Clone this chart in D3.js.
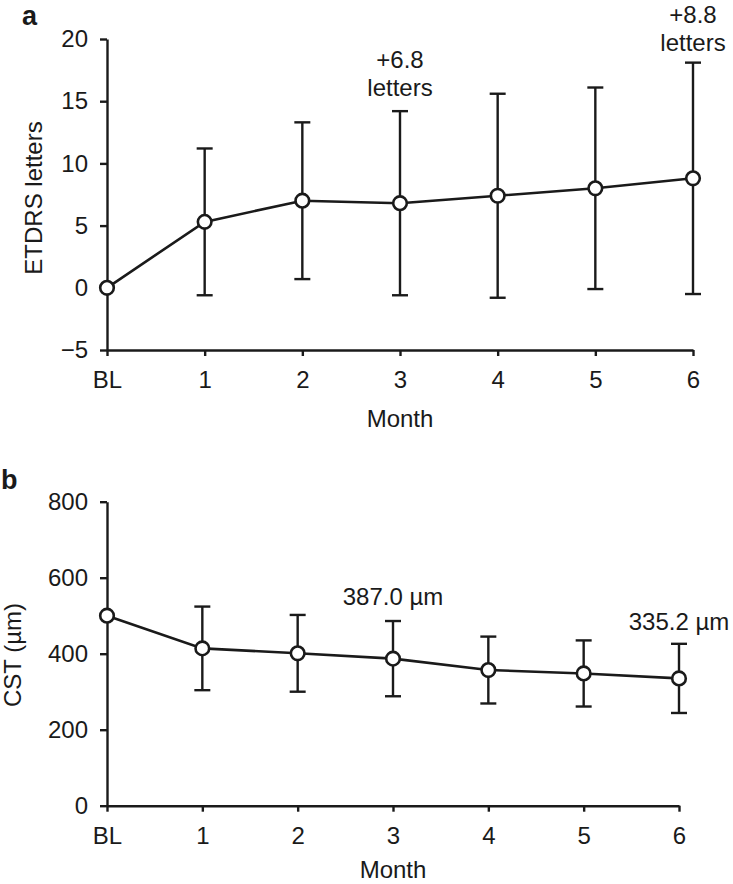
<!DOCTYPE html>
<html><head><meta charset="utf-8">
<script src="https://cdn.jsdelivr.net/npm/d3@7"></script>
<style>body{margin:0;background:#fff}svg{display:block}text{font-family:"Liberation Sans",Arial,sans-serif;fill:#1a1a1a}</style>
</head><body><svg id="c" width="733" height="884"></svg>
<script>
const months = ["BL","1","2","3","4","5","6"];
const etdrsMean = [0,5.3,7.0,6.8,7.4,8.0,8.8];
const etdrsSD   = [0,5.9,6.3,7.4,8.2,8.1,9.3];
const etdrsTicks = [-5,0,5,10,15,20];
const cstMean = [500,414,401,387,357,348,335];
const cstSD   = [0,110,101,99,88,87,91];
const cstTicks = [0,200,400,600,800];

const svg = d3.select("#c");
const FS = 24;
const ink = "#1a1a1a";

function panel(o){
  const g = svg.append("g");
  const x = d3.scalePoint().domain(months).range([o.x0,o.x1]);
  const y = d3.scaleLinear().domain(o.domain).range([o.yb,o.yt]);
  const xa = g.append("g").attr("transform",`translate(0,${o.yb})`)
    .call(d3.axisBottom(x).tickSize(6).tickPadding(15).tickSizeOuter(0));
  const ya = g.append("g").attr("transform",`translate(${o.x0},0)`)
    .call(d3.axisLeft(y).tickValues(o.ticks).tickSize(7).tickPadding(12).tickSizeOuter(0)
      .tickFormat(d=> d<0 ? "\u2212"+Math.abs(d) : d));
  [xa,ya].forEach(a=>{
    a.select(".domain").attr("stroke",ink).attr("stroke-width",2.4);
    a.selectAll(".tick line").attr("stroke",ink).attr("stroke-width",2.4);
    a.selectAll(".tick text").attr("font-size",FS).attr("fill",ink).style("font-family",'"Liberation Sans",Arial,sans-serif');
  });
  const data = months.map((m,i)=>({m,v:o.mean[i],s:o.sd[i]}));
  const eb = g.append("g").attr("stroke",ink).attr("stroke-width",2.4);
  data.filter(d=>d.s>0).forEach(d=>{
    const cx = x(d.m);
    eb.append("line").attr("x1",cx).attr("x2",cx).attr("y1",y(d.v-d.s)).attr("y2",y(d.v+d.s));
    [d.v-d.s,d.v+d.s].forEach(v=>eb.append("line").attr("x1",cx-8).attr("x2",cx+8).attr("y1",y(v)).attr("y2",y(v)));
  });
  g.append("path").datum(data).attr("fill","none").attr("stroke",ink).attr("stroke-width",2.6)
    .attr("d",d3.line().x(d=>x(d.m)).y(d=>y(d.v)));
  g.selectAll("circle.pt").data(data).join("circle").attr("class","pt")
    .attr("cx",d=>x(d.m)).attr("cy",d=>y(d.v)).attr("r",6.8)
    .attr("fill","#fff").attr("stroke",ink).attr("stroke-width",2.6);
  g.append("text").attr("x",(o.x0+o.x1)/2).attr("y",o.monthY).attr("text-anchor","middle")
    .attr("font-size",FS).text("Month");
  g.append("text").attr("transform",`translate(${o.ytX},${o.ytY}) rotate(-90)`).attr("text-anchor","middle")
    .attr("font-size",FS).attr("fill",ink).text(o.ytitle);
  g.append("text").attr("x",o.lx).attr("y",o.ly).attr("font-size",27).attr("font-weight","bold").text(o.label);
  o.notes.forEach(n=>{
    const t = g.append("text").attr("x",x(months[n.i])).attr("y",n.y).attr("text-anchor","middle").attr("font-size",FS);
    n.lines.forEach((l,k)=>t.append("tspan").attr("x",x(months[n.i])).attr("dy",k?28:0).text(l));
  });
}

panel({x0:107,x1:693,yb:350,yt:39,domain:[-5,20],ticks:etdrsTicks,mean:etdrsMean,sd:etdrsSD,
  monthY:427,ytX:42,ytY:198,ytitle:"ETDRS letters",label:"a",lx:22,ly:25,
  notes:[{i:3,lines:["+6.8","letters"],y:68},{i:6,lines:["+8.8","letters"],y:23}]});
panel({x0:107,x1:679,yb:805.7,yt:501.7,domain:[0,800],ticks:cstTicks,mean:cstMean,sd:cstSD,
  monthY:878,ytX:21,ytY:655,ytitle:"CST (\u00b5m)",label:"b",lx:1,ly:489,
  notes:[{i:3,lines:["387.0 \u00b5m"],y:605},{i:6,lines:["335.2 \u00b5m"],y:630}]});
</script></body></html>
